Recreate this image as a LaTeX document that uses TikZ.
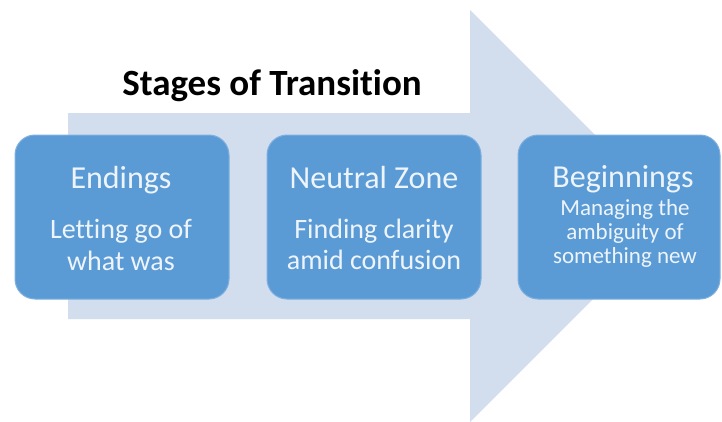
\documentclass[tikz,border=0pt]{standalone}
\usepackage{fontspec}
\setmainfont[Ligatures=NoCommon]{Carlito}
\definecolor{arrowfill}{HTML}{D2DDEE}
\definecolor{boxfill}{HTML}{5B9BD5}
\definecolor{boxedge}{HTML}{7DB0E0}
\definecolor{boxtext}{HTML}{EEF4FB}
\tikzset{
  stagebox/.style={draw=boxedge, line width=1pt, fill=boxfill, rounded corners=20pt, inner sep=0pt},
  headtxt/.style={anchor=base, inner sep=0pt, text=boxtext, font=\fontsize{32}{38}\selectfont},
  subtxt/.style={anchor=base, inner sep=0pt, text=boxtext, font=\fontsize{28}{32}\selectfont},
  smalltxt/.style={anchor=base, inner sep=0pt, text=boxtext, font=\fontsize{23}{26}\selectfont},
  titletxt/.style={anchor=base, inner sep=0pt, text=black, font=\fontsize{37}{43}\selectfont\bfseries}
}
\begin{document}
\begin{tikzpicture}[x=1pt, y=-1pt]
\useasboundingbox (0,0) rectangle (722,421);
\fill[white] (0,0) rectangle (722,421);
% big background arrow
\fill[arrowfill] (68,113) -- (470,113) -- (470,10) -- (676,216) -- (470,422) -- (470,319) -- (68,319) -- cycle;
% title
\node[titletxt] (title) at (272,95) {Stages of Transition};
% boxes
\node[stagebox, minimum width=214pt, minimum height=164pt] (endings) at (122,217) {};
\node[stagebox, minimum width=214pt, minimum height=164pt] (neutral) at (374,217) {};
\node[stagebox, minimum width=202pt, minimum height=164pt] (beginnings) at (619,217) {};
% Endings text
\node[headtxt] (endh) at (121,188) {Endings};
\node[subtxt] (end1) at (121,238) {Letting go of};
\node[subtxt] (end2) at (121,270) {what was};
% Neutral Zone text
\node[headtxt] (neuh) at (374,188) {Neutral Zone};
\node[subtxt] (neu1) at (374,238) {Finding clarity};
\node[subtxt] (neu2) at (374,269) {amid confusion};
% Beginnings text
\node[headtxt] (begh) at (623,187) {Beginnings};
\node[smalltxt] (beg1) at (625,215) {Managing the};
\node[smalltxt] (beg2) at (625,239) {ambiguity of};
\node[smalltxt] (beg3) at (625,263) {something new};
\end{tikzpicture}
\end{document}
